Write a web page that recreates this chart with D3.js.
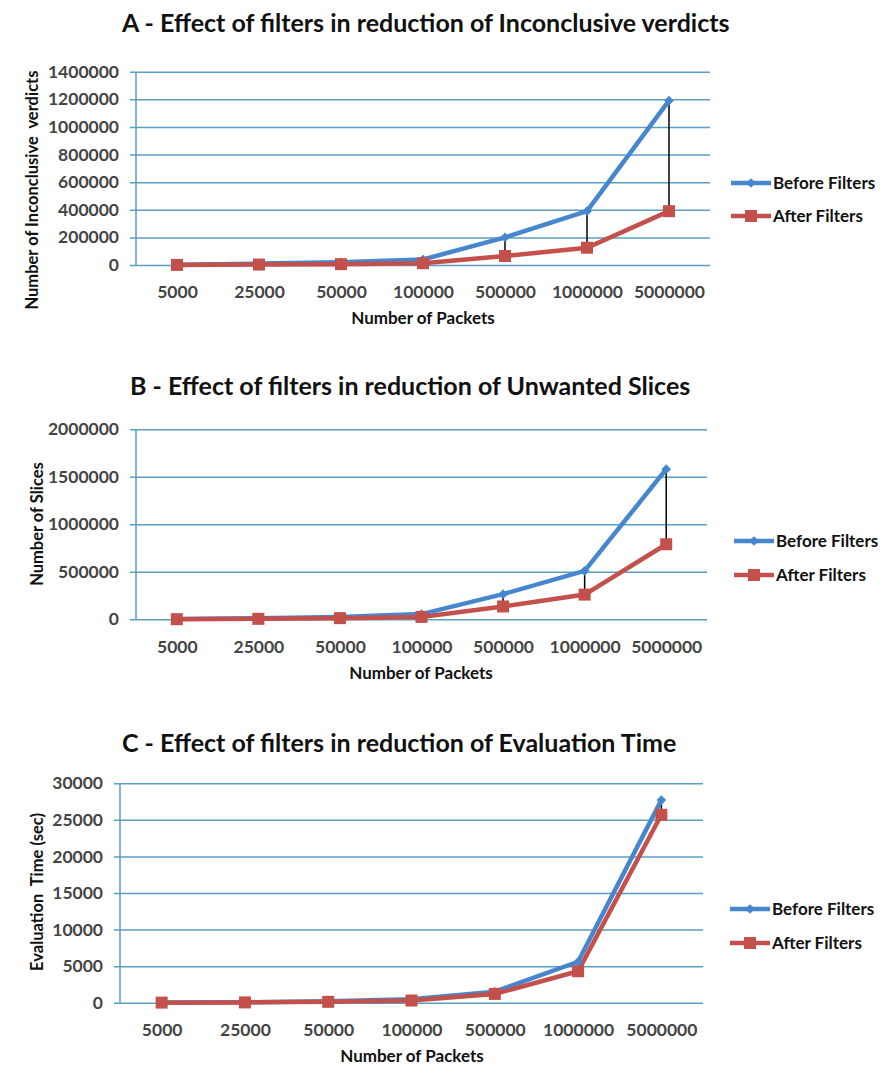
<!DOCTYPE html>
<html>
<head>
<meta charset="utf-8">
<script src="https://cdn.jsdelivr.net/npm/d3@7"></script>
<style>
  body { margin: 0; background: #fff; }
  svg text { font-family: Lato, "Open Sans", sans-serif; font-weight: bold; }
</style>
</head>
<body>
<svg id="chart" width="885" height="1068"></svg>
<script>
// categories (number of packets)
const packets = ["5000", "25000", "50000", "100000", "500000", "1000000", "5000000"]

// A - inconclusive verdicts
const verdictsBefore = [2000, 10000, 20000, 40000, 200000, 390000, 1190000]
const verdictsAfter = [500, 3000, 6000, 13000, 65000, 125000, 390000]
const verdictTicks = [0, 200000, 400000, 600000, 800000, 1000000, 1200000, 1400000]

// B - unwanted slices
const slicesBefore = [2000, 10000, 25000, 55000, 265000, 510000, 1580000]
const slicesAfter = [1000, 5000, 12000, 25000, 135000, 260000, 790000]
const sliceTicks = [0, 500000, 1000000, 1500000, 2000000]

// C - evaluation time (sec)
const timeBefore = [15, 60, 200, 460, 1500, 5600, 27700]
const timeAfter = [10, 40, 120, 300, 1200, 4300, 25700]
const timeTicks = [0, 5000, 10000, 15000, 20000, 25000, 30000]

const seriesNames = ["Before Filters", "After Filters"]
const blue = "#4586cf"
const red = "#c4504c"
const grid = "#5a9fc2"

const svg = d3.select("#chart")

// one chart panel
function drawChart(opt) {
  let g = svg.append("g")
  let x = d3.scalePoint().domain(packets).range([opt.left, opt.right]).padding(0.5)
  let y = d3.scaleLinear().domain([0, d3.max(opt.ticks)]).range([opt.bottom, opt.top])

  // title
  g.append("text")
    .attr("x", opt.titleX).attr("y", opt.titleY)
    .attr("font-size", 25).attr("fill", "#111")
    .text(opt.title)

  // gridlines + y axis labels
  let yAxis = d3.axisLeft(y).tickValues(opt.ticks).tickSize(-(opt.right - opt.left)).tickPadding(17).tickFormat(d3.format("d"))
  let ya = g.append("g").attr("transform", `translate(${opt.left},0)`).call(yAxis)
  ya.select(".domain").remove()
  ya.selectAll(".tick line").attr("x1", -6).attr("stroke", grid).attr("stroke-width", 1.5)
  ya.selectAll(".tick text").attr("font-size", 17.5).attr("fill", "#444").attr("font-family", "Lato, sans-serif")

  // y axis line
  g.append("line")
    .attr("x1", opt.left).attr("x2", opt.left)
    .attr("y1", opt.top).attr("y2", opt.bottom)
    .attr("stroke", grid).attr("stroke-width", 1.5)

  // x labels
  let xAxis = d3.axisBottom(x).tickSize(0).tickPadding(opt.xPad)
  let xa = g.append("g").attr("transform", `translate(0,${opt.bottom})`).call(xAxis)
  xa.select(".domain").remove()
  xa.selectAll(".tick text").attr("font-size", 17.5).attr("fill", "#444").attr("font-family", "Lato, sans-serif")

  // axis titles
  g.append("text")
    .attr("x", opt.xTitleX).attr("y", opt.xTitleY)
    .attr("text-anchor", "middle").attr("font-size", 17).attr("fill", "#111")
    .text("Number of Packets")
  g.append("text")
    .attr("transform", `translate(${opt.yTitleX},${opt.yTitleY}) rotate(-90)`)
    .attr("text-anchor", "middle").attr("font-size", 16.5).attr("fill", "#111")
    .attr("xml:space", "preserve")
    .text(opt.yTitle)

  // high-low lines
  g.selectAll(".hilo")
    .data(packets)
    .enter()
    .append("line")
    .attr("x1", (d) => x(d)).attr("x2", (d) => x(d))
    .attr("y1", (d, i) => y(opt.before[i]))
    .attr("y2", (d, i) => y(opt.after[i]))
    .attr("stroke", "#000").attr("stroke-width", 1.5)

  let line = d3.line().x((d, i) => x(packets[i])).y((d) => y(d))

  g.append("path").datum(opt.before)
    .attr("d", line).attr("fill", "none").attr("stroke", blue).attr("stroke-width", 4.5)
  g.append("path").datum(opt.after)
    .attr("d", line).attr("fill", "none").attr("stroke", red).attr("stroke-width", 4.5)

  let diamond = d3.symbol().type(d3.symbolDiamond2).size(60)
  g.selectAll(".dia")
    .data(opt.before)
    .enter()
    .append("path")
    .attr("d", diamond)
    .attr("transform", (d, i) => `translate(${x(packets[i])},${y(d)})`)
    .attr("fill", blue)
  g.selectAll(".sq")
    .data(opt.after)
    .enter()
    .append("rect")
    .attr("x", (d, i) => x(packets[i]) - 6).attr("y", (d) => y(d) - 6)
    .attr("width", 12).attr("height", 12)
    .attr("fill", red)

  // legend
  let colors = [blue, red]
  let lg = g.selectAll(".leg")
    .data(seriesNames)
    .enter()
    .append("g")
    .attr("transform", (d, i) => `translate(${opt.legendX},${opt.legendY + i * opt.legendGap})`)
  lg.append("line").attr("x1", 0).attr("x2", 40)
    .attr("stroke", (d, i) => colors[i]).attr("stroke-width", 4.5)
  lg.filter((d, i) => i == 0).append("path")
    .attr("d", diamond).attr("transform", "translate(20,0)").attr("fill", blue)
  lg.filter((d, i) => i == 1).append("rect")
    .attr("x", 14).attr("y", -6).attr("width", 12).attr("height", 12).attr("fill", red)
  lg.append("text").attr("x", 42).attr("dy", "0.35em")
    .attr("font-size", 17).attr("fill", "#111")
    .text((d) => d)
}

drawChart({
  title: "A - Effect of filters in reduction of Inconclusive verdicts", titleX: 122, titleY: 32,
  left: 136, right: 710, top: 71.7, bottom: 265, ticks: verdictTicks,
  before: verdictsBefore, after: verdictsAfter, xPad: 21,
  xTitleX: 423, xTitleY: 324, yTitle: "Number of Inconclusive  verdicts", yTitleX: 38, yTitleY: 190,
  legendX: 731, legendY: 183, legendGap: 33
})

drawChart({
  title: "B - Effect of filters in reduction of Unwanted Slices", titleX: 130, titleY: 395,
  left: 136, right: 707, top: 429.3, bottom: 619.3, ticks: sliceTicks,
  before: slicesBefore, after: slicesAfter, xPad: 21,
  xTitleX: 421, xTitleY: 679, yTitle: "Number of Slices", yTitleX: 43, yTitleY: 524,
  legendX: 734, legendY: 541, legendGap: 34
})

drawChart({
  title: "C - Effect of filters in reduction of Evaluation Time", titleX: 122, titleY: 752,
  left: 120, right: 703, top: 783.3, bottom: 1002.7, ticks: timeTicks,
  before: timeBefore, after: timeAfter, xPad: 21,
  xTitleX: 412, xTitleY: 1062, yTitle: "Evaluation  Time (sec)", yTitleX: 43, yTitleY: 892,
  legendX: 730, legendY: 909, legendGap: 34
})
</script>
</body>
</html>
